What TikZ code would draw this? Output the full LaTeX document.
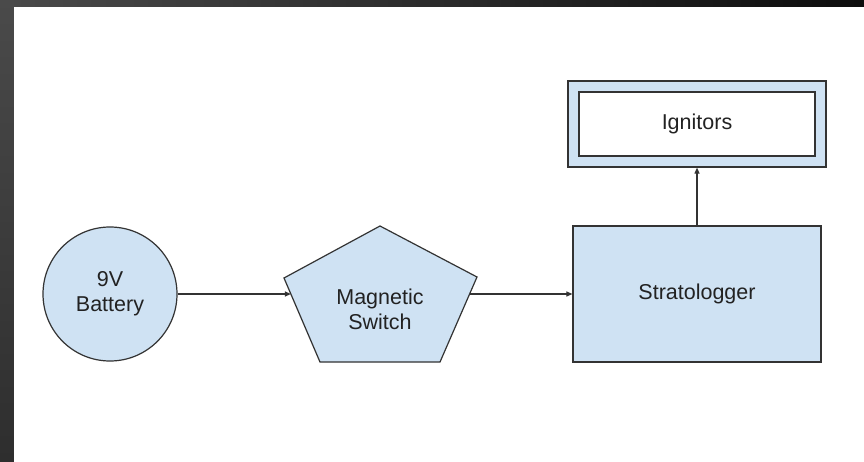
\documentclass[tikz,border=0pt]{standalone}
\usepackage{fontspec}
\setmainfont{Liberation Sans}
\usetikzlibrary{arrows.meta}
\definecolor{shapefill}{HTML}{CFE2F3}
\definecolor{edge}{HTML}{333333}
\definecolor{txt}{HTML}{222222}
\tikzset{
  shp/.style={draw=edge, line width=1.2pt, fill=shapefill, text=txt, align=center,
    font=\fontsize{21.5}{25}\selectfont, inner sep=0pt},
  conn/.style={draw=edge, line width=1.1pt, -{Triangle[length=6pt,width=5pt]}},
  lbl/.style={text=txt, align=center, font=\fontsize{21.5}{25}\selectfont, inner sep=0pt}
}
\begin{document}
\begin{tikzpicture}[x=1pt,y=-1pt]
\useasboundingbox (0,0) rectangle (864,462);
% background frame
\shade[left color=black!71, right color=black!95] (0,0) rectangle (864,462);
\shade[top color=black!71, bottom color=black!82] (0,0) rectangle (14,462);
\fill[white] (14,7) rectangle (864,462);

% battery
\node[shp, circle, minimum size=134pt] (bat) at (110,294) {9V\\Battery};

% magnetic switch pentagon
\path[draw=edge, line width=1.2pt, fill=shapefill, line join=miter]
  (380,226) -- (477,277) -- (440,362) -- (320,362) -- (284,278) -- cycle;
\coordinate (swin) at (290.9,294);
\coordinate (swout) at (469.6,294);
\node[lbl] (sw) at (380,309) {Magnetic\\Switch};

% stratologger
\node[shp, rectangle, minimum width=248pt, minimum height=136pt] (strat) at (697,294) {Stratologger};

% ignitors (double box)
\node[shp, rectangle, minimum width=258pt, minimum height=86pt] (ignout) at (697,124) {};
\node[shp, rectangle, fill=white, minimum width=236pt, minimum height=64pt] (ign) at (697,124) {Ignitors};

% connectors
\draw[conn] (bat.east) -- (swin);
\draw[conn] (swout) -- (strat.west);
\draw[conn] (strat.north) -- (ignout.south);
\end{tikzpicture}
\end{document}
